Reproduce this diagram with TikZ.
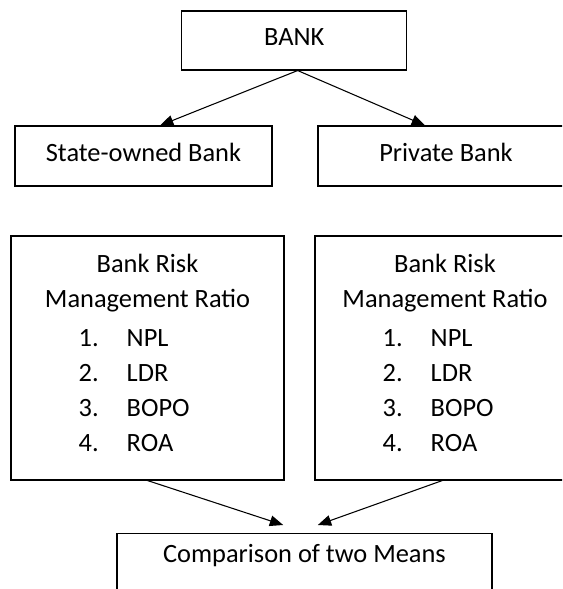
\documentclass[tikz,border=0pt]{standalone}
\usepackage{fontspec}
\setmainfont{Carlito}
\usetikzlibrary{positioning}
\usetikzlibrary {arrows.meta}
\tikzset{bankbox/.style={rectangle,draw=black,fill=white,line width=0.8pt,
inner sep=2pt,text height=12pt,text depth=4.5pt,minimum height=45pt}}
\tikzset{riskbox/.style={rectangle,draw=black,fill=white,line width=0.8pt,
inner sep=0pt,minimum height=183pt}}
\tikzset{risktext/.style={inner sep=0pt,anchor=base}}
\tikzset{riskitem/.style={inner sep=0pt,anchor=base west}}
\tikzset{bankarrow/.style={line width=0.8pt,-{Triangle[length=10pt,width=8pt]}}}

\begin{document}
\begin{tikzpicture}[x=0.75pt,y=-0.75pt,font=\fontsize{19.8pt}{24pt}\selectfont]
    \useasboundingbox (0,0) rectangle (562,589);
    \clip (0,0) rectangle (562,589);

        \node[bankbox, minimum width=168.75pt, minimum height=44.25pt] (bank) at (294.3, 40.5) {BANK};
        \node[bankbox, minimum width=192.75pt] (boxState) at (143.5, 156) {State-owned Bank};
        \node[bankbox, minimum width=192pt] (boxPrivate) at (446, 156) {Private Bank};

        \node[riskbox, minimum width=204.75pt] (boxRiskL) at (147.5, 358) {};
        \node[riskbox, minimum width=195pt] (boxRiskR) at (445, 358) {};

        \foreach \r in {boxRiskL,boxRiskR} {
            \node[risktext] (\r-title) at ([yshift=-27.75pt]\r.north) {Bank Risk};
            \node[risktext] (\r-sub) at ([yshift=-54pt]\r.north) {Management Ratio};
            \foreach \n/\item in {1/NPL,2/LDR,3/BOPO,4/ROA} {
                \pgfmathsetmacro\dy{57+26.25*\n}
                \node[riskitem] (\r-num\n) at ([xshift=51pt,yshift=-\dy pt]\r.north west) {\n.};
                \node[riskitem] (\r-item\n) at ([xshift=87pt,yshift=-\dy pt]\r.north west) {\item};
            }
        }

        \node[bankbox, anchor=north, minimum width=281.25pt, text depth=13.5pt] (boxComp) at (304.5, 533) {Comparison of two Means};

        \coordinate (stateIn) at ([xshift=12.4pt]boxState.north);
        \coordinate (privateIn) at ([xshift=-15.75pt]boxPrivate.north);
        \draw [bankarrow] ([xshift=2.5pt]bank.south) -- (stateIn);
        \draw [bankarrow] ([xshift=2.5pt]bank.south) -- (privateIn);

        \coordinate (compInL) at ([xshift=-16pt,yshift=6pt]boxComp.north);
        \coordinate (compInR) at ([xshift=10pt,yshift=6pt]boxComp.north);
        \draw [bankarrow] (boxRiskL.south) -- (compInL);
        \draw [bankarrow] ([xshift=-2pt]boxRiskR.south) -- (compInR);

    \end{tikzpicture}
\end{document}
